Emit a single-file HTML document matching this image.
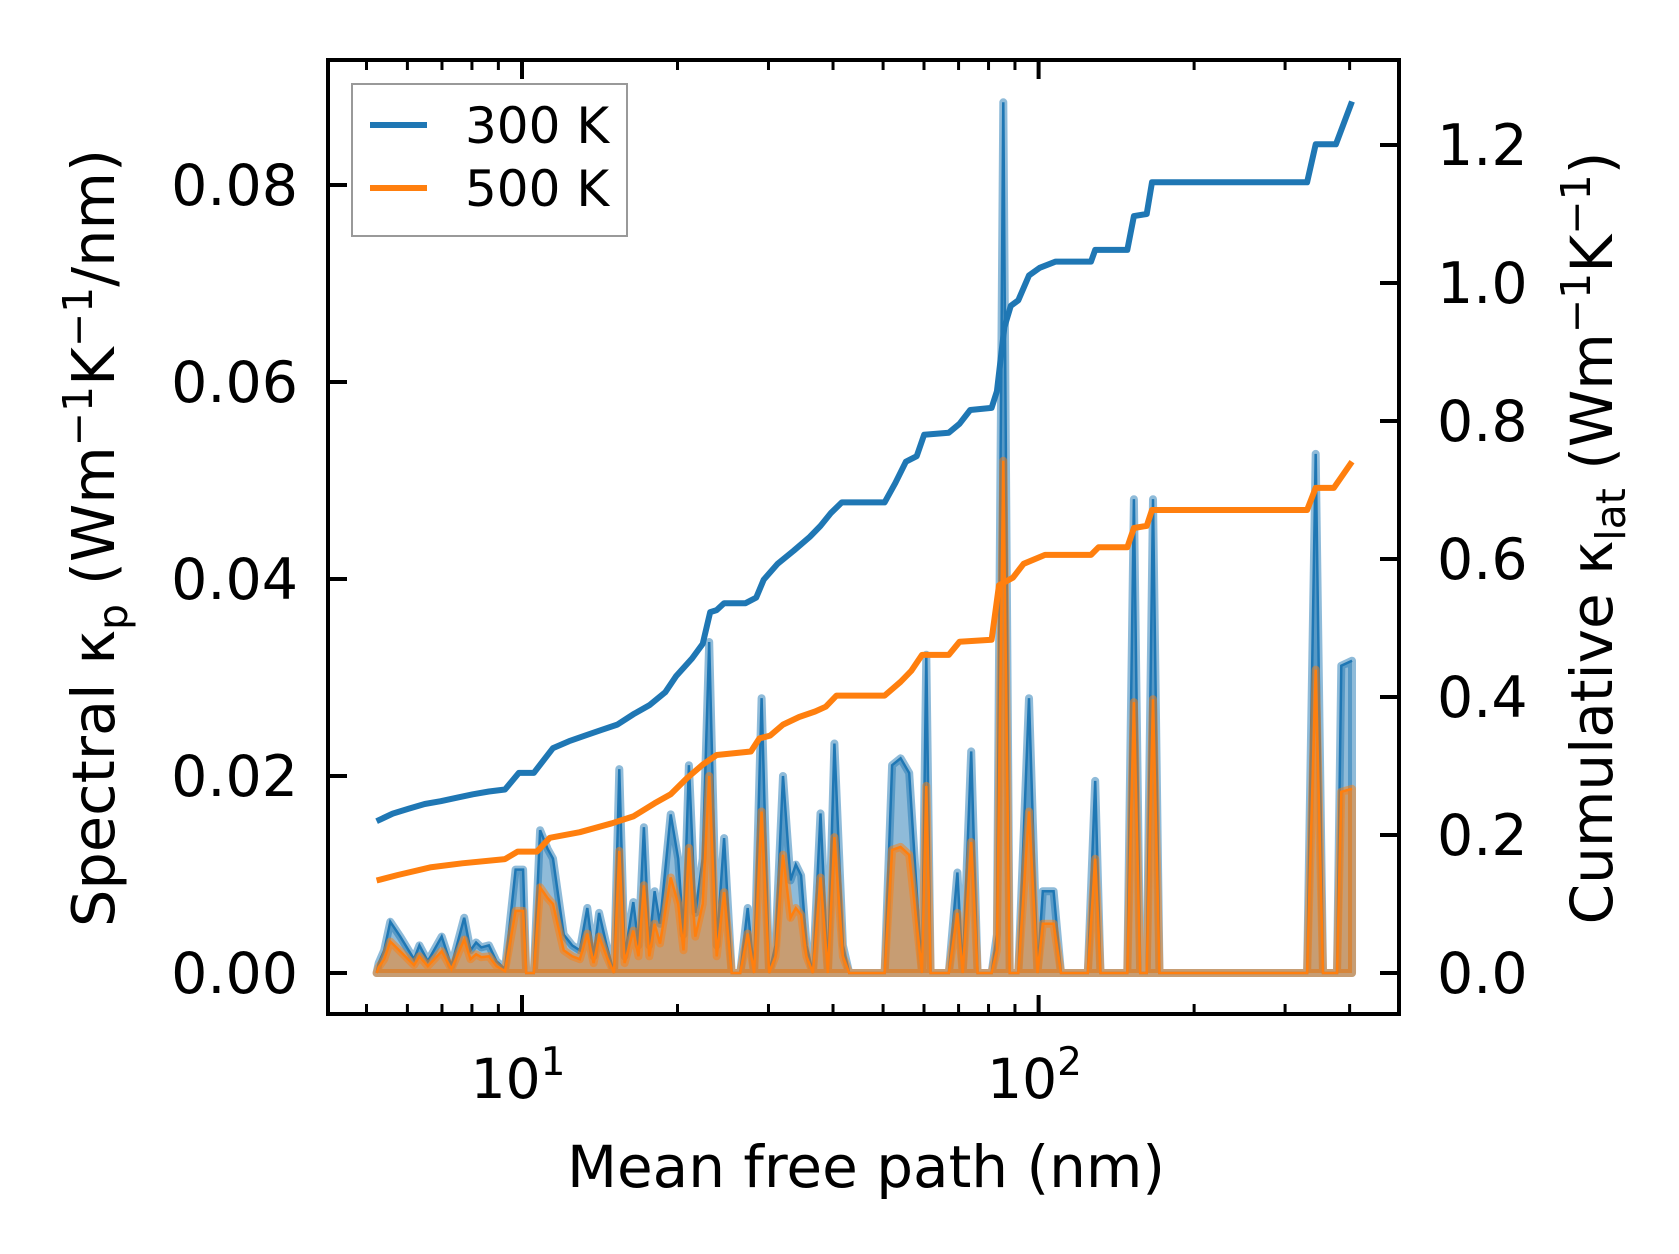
<!DOCTYPE html>
<html><head><meta charset="utf-8"><style>
html,body{margin:0;padding:0;background:#fff;}
svg{display:block;font-family:"DejaVu Sans","Liberation Sans",sans-serif;}
</style></head><body>
<svg id="chart" width="1679" height="1254" viewBox="0 0 1679 1254" xmlns="http://www.w3.org/2000/svg">
<g id="marks"></g>
<g id="axes"></g>
<g>
<rect x="352" y="84" width="275" height="152" fill="#fff" fill-opacity="0.8" stroke="#999" stroke-width="2"/>
<line x1="370" y1="125" x2="427" y2="125" stroke="#1f77b4" stroke-width="6"/>
<text x="465" y="143" font-size="50">300 K</text>
<line x1="370" y1="188" x2="427" y2="188" stroke="#ff7f0e" stroke-width="6"/>
<text x="465" y="206" font-size="50">500 K</text>
</g>
<text x="866" y="1187" font-size="58" text-anchor="middle">Mean free path (nm)</text>
<text transform="translate(114,538) rotate(-90)" font-size="59" text-anchor="middle">Spectral κ<tspan font-size="41" dy="13">p</tspan><tspan dy="-13"> (Wm</tspan><tspan font-size="41" dy="-22">−1</tspan><tspan dy="22">K</tspan><tspan font-size="41" dy="-22">−1</tspan><tspan dy="22">/nm)</tspan></text>
<text transform="translate(1612,538) rotate(-90)" font-size="58" text-anchor="middle">Cumulative κ<tspan font-size="41" dy="13">lat</tspan><tspan dy="-13"> (Wm</tspan><tspan font-size="41" dy="-22">−1</tspan><tspan dy="22">K</tspan><tspan font-size="41" dy="-22">−1</tspan><tspan dy="22">)</tspan></text>
</svg>
<script>
// ---- data ----
const cum300X = [5.23,5.62,6.03,6.48,6.96,7.48,8.03,8.63,9.27,9.86,10.54,11.48,12.33,13.25,14.23,15.29,16.42,17.64,18.94,19.87,21.34,22.38,23.14,23.82,24.62,27.08,28.40,29.37,31.24,33.57,36.06,37.82,39.66,41.59,44.69,50.33,52.79,55.36,58.07,60.04,67.01,70.28,73.71,81.09,83.05,85.85,88.36,91.35,95.81,100.5,107.9,126.3,128.7,148.5,152.9,161.9,165.8,331.0,343.8,376.3,404.3];
const cum300Y = [0.220,0.231,0.238,0.245,0.249,0.254,0.259,0.263,0.266,0.290,0.290,0.326,0.336,0.344,0.352,0.360,0.375,0.388,0.407,0.430,0.456,0.477,0.523,0.526,0.536,0.536,0.544,0.570,0.593,0.612,0.632,0.648,0.667,0.682,0.682,0.682,0.710,0.741,0.749,0.780,0.783,0.796,0.816,0.819,0.843,0.936,0.967,0.975,1.011,1.022,1.031,1.031,1.048,1.048,1.097,1.100,1.146,1.146,1.201,1.201,1.263];
const cum500X = [5.23,5.75,6.64,7.66,9.27,9.81,10.69,11.32,12.94,14.93,16.42,18.06,19.40,20.84,22.38,23.82,27.74,28.81,30.22,32.00,34.38,36.93,38.73,40.62,50.33,54.07,56.70,59.47,67.01,70.28,81.09,83.83,89.20,93.54,102.9,126.3,130.6,148.5,152.9,161.9,165.8,331.0,343.8,372.7,404.3];
const cum500Y = [0.134,0.142,0.153,0.159,0.165,0.176,0.176,0.196,0.204,0.217,0.227,0.246,0.259,0.282,0.302,0.316,0.321,0.340,0.344,0.360,0.371,0.379,0.386,0.402,0.402,0.422,0.438,0.461,0.461,0.480,0.483,0.562,0.573,0.593,0.606,0.606,0.617,0.617,0.645,0.648,0.671,0.671,0.703,0.703,0.741];
const specX = [5.23,5.28,5.41,5.56,5.81,6.18,6.33,6.57,6.99,7.30,7.73,7.95,8.15,8.34,8.63,8.92,9.27,9.72,10.05,10.19,10.54,10.84,11.21,11.48,12.04,12.51,12.94,13.38,13.76,14.10,14.58,15.07,15.43,15.80,16.42,16.81,17.22,17.64,18.06,18.50,19.40,20.06,20.54,21.04,21.65,22.38,23.03,23.82,24.62,25.46,26.45,27.35,28.14,29.09,30.08,30.96,32.00,33.09,33.88,34.70,35.54,36.57,37.82,39.10,40.24,41.80,43.00,50.33,52.04,54.07,56.18,58.07,59.47,60.62,61.79,67.01,69.62,71.29,74.06,76.21,81.09,83.05,85.45,87.93,91.35,95.81,99.53,101.9,106.9,110.5,124.5,128.7,131.8,148.5,152.9,157.3,161.9,166.5,171.4,331.0,343.8,355.3,378.1,385.4,404.3];
const spec300 = [0,0.0010,0.0023,0.0052,0.0037,0.0014,0.0028,0.0012,0.0037,0.0007,0.0056,0.0023,0.0031,0.0026,0.0028,0.0012,0.0004,0.0105,0.0105,0,0,0.0145,0.0126,0.0116,0.0039,0.0028,0.0023,0.0066,0.0017,0.0061,0.0028,0,0.0207,0.0017,0.0072,0.0028,0.0148,0.0028,0.0083,0.0050,0.0161,0.0116,0.0039,0.0211,0.0061,0.0116,0.0336,0.0028,0.0137,0,0,0.0066,0,0.0279,0,0.0028,0.0200,0.0094,0.0110,0.0099,0.0028,0,0.0162,0,0.0233,0.0028,0,0,0.0211,0.0218,0.0203,0.0083,0,0.0323,0,0,0.0102,0,0.0225,0,0,0.0039,0.0884,0,0,0.0279,0,0.0083,0.0083,0,0,0.0195,0,0,0.0481,0,0,0.0481,0,0,0.0527,0,0,0.0312,0.0317];
const spec500 = [0,0.0006,0.0014,0.0032,0.0022,0.0008,0.0017,0.0007,0.0022,0.0004,0.0034,0.0014,0.0019,0.0016,0.0017,0.0007,0.0002,0.0063,0.0063,0,0,0.0087,0.0076,0.0070,0.0023,0.0017,0.0014,0.0040,0.0010,0.0037,0.0017,0,0.0124,0.0010,0.0043,0.0017,0.0089,0.0017,0.0050,0.0030,0.0097,0.0070,0.0023,0.0127,0.0037,0.0070,0.0200,0.0017,0.0082,0,0,0.0040,0,0.0164,0,0.0017,0.0120,0.0056,0.0066,0.0059,0.0017,0,0.0097,0,0.0138,0.0017,0,0,0.0125,0.0128,0.0120,0.0050,0,0.0190,0,0,0.0061,0,0.0133,0,0,0.0023,0.0520,0,0,0.0164,0,0.0050,0.0050,0,0,0.0116,0,0,0.0275,0,0,0.0278,0,0,0.0308,0,0,0.0184,0.0187];
const leftTicks = [0,0.02,0.04,0.06,0.08];
const leftTickLabels = ["0.00","0.02","0.04","0.06","0.08"];
const rightTicks = [0,0.2,0.4,0.6,0.8,1.0,1.2];
const rightTickLabels = ["0.0","0.2","0.4","0.6","0.8","1.0","1.2"];
const xMajor = [10,100];
const xMajorExp = ["1","2"];
const xMinor = [5,6,7,8,9,20,30,40,50,60,70,80,90,200,300,400];

// ---- axes functions ----
const L=328,R=1399,T=60,B=1014;
function X(v){return 522+(Math.log10(v)-1)*516.6;}
function YL(v){return 973-v*9850;}
function YR(v){return 973-v*690;}
const NS="http://www.w3.org/2000/svg";
function mk(tag,attrs,parent){const e=document.createElementNS(NS,tag);for(const k in attrs)e.setAttribute(k,attrs[k]);parent.appendChild(e);return e;}
const marks=document.getElementById('marks'), axes=document.getElementById('axes');

function specArea(xs,ys,color,name){
  let d=`M${X(xs[0])},${YL(0)}`;
  xs.forEach((x,i)=>{d+=` L${X(x).toFixed(1)},${YL(ys[i]).toFixed(1)}`;});
  d+=` L${X(xs[xs.length-1])},${YL(0)} Z`;
  const a=mk('path',{d:d,fill:color,'fill-opacity':0.5,stroke:color,'stroke-opacity':0.5,'stroke-width':8,'stroke-linejoin':'round'},marks);
  
  
  const pts=xs.map((x,i)=>X(x).toFixed(1)+','+YL(ys[i]).toFixed(1)).join(' ');
  const l=mk('polyline',{points:pts,fill:'none',stroke:color,'stroke-width':2.5},marks);
  
  
}
specArea(specX,spec300,'#1f77b4','spectral-300k');
specArea(specX,spec500,'#ff7f0e','spectral-500k');

function cumLine(xs,ys,color,name){
  const pts=xs.map((x,i)=>X(x).toFixed(1)+','+YR(ys[i]).toFixed(1)).join(' ');
  const l=mk('polyline',{points:pts,fill:'none',stroke:color,'stroke-width':6,'stroke-linejoin':'round'},marks);
  
  
}
cumLine(cum300X,cum300Y,'#1f77b4','cumulative-300k-line');
cumLine(cum500X,cum500Y,'#ff7f0e','cumulative-500k-line');

// frame
const fr=mk('rect',{x:L,y:T,width:R-L,height:B-T,fill:'none',stroke:'#000','stroke-width':4},axes);



leftTicks.forEach((v,i)=>{
  const y=YL(v);
  const t=mk('line',{x1:L,y1:y,x2:L+19,y2:y,stroke:'#000','stroke-width':4},axes);
  
  
  const tx=mk('text',{x:298,y:y+20,'font-size':57,'text-anchor':'end'},axes);
  tx.textContent=leftTickLabels[i];
  
  
});
rightTicks.forEach((v,i)=>{
  const y=YR(v);
  const t=mk('line',{x1:R-19,y1:y,x2:R,y2:y,stroke:'#000','stroke-width':4},axes);
  
  
  const tx=mk('text',{x:1437,y:y+20,'font-size':57},axes);
  tx.textContent=rightTickLabels[i];
  
  
});
xMajor.forEach((v,i)=>{
  const x=X(v);
  [[B,B-19],[T,T+19]].forEach(p=>{
    const t=mk('line',{x1:x,y1:p[0],x2:x,y2:p[1],stroke:'#000','stroke-width':4},axes);
    
    
  });
  const tx=mk('text',{x:x-4,y:1098,'font-size':55,'text-anchor':'middle'},axes);
  
  
  tx.appendChild(document.createTextNode('10'));
  const s=mk('tspan',{'font-size':39,dy:-23},tx);
  s.textContent=xMajorExp[i];
});
xMinor.forEach(v=>{
  const x=X(v);
  if(x<L||x>R) return;
  [[B,B-10],[T,T+10]].forEach(p=>{
    const t=mk('line',{x1:x,y1:p[0],x2:x,y2:p[1],stroke:'#000','stroke-width':3},axes);
    
    
  });
});
</script>
</body></html>
